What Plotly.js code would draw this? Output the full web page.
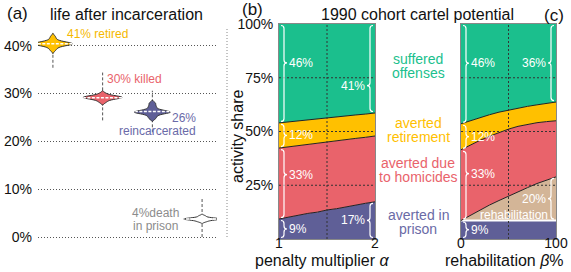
<!DOCTYPE html>
<html><head><meta charset="utf-8">
<script src="https://cdn.plot.ly/plotly-3.0.1.min.js"></script>
<style>html,body{margin:0;padding:0;background:#fff}#chart{width:571px;height:272px}</style>
</head><body><div id="chart"></div>
<script>
// ---------- Panel (a): life after incarceration ----------
const outcomeNames = ['retired', 'killed', 'reincarcerated', 'death in prison'];
const outcomeLabels = [['41% retired'], ['30% killed'], ['26%', 'reincarcerated'], ['4%death', 'in prison']];
const retiredSamples = [39.1, 39.6, 39.95, 40.2, 40.3, 40.35, 40.4, 40.4, 40.45, 40.5, 40.55, 40.65, 40.9, 41.3, 41.9];
const killedSamples = [28.2, 28.6, 28.9, 29.05, 29.15, 29.2, 29.2, 29.25, 29.3, 29.4, 29.6, 30.0];
const reincSamples = [24.8, 25.3, 25.7, 25.95, 26.05, 26.1, 26.15, 26.2, 26.3, 26.5, 26.9, 27.4, 28.0];
const deathSamples = [3.2, 3.45, 3.62, 3.7, 3.75, 3.78, 3.82, 3.9, 4.05, 4.4];
const rangeLow = [35.4, 24.4, 21.9, 0.0];
const rangeHigh = [42.7, 34.4, 30.6, 8.3];
const pctTicks = [0, 10, 20, 30, 40];

// ---------- Panel (b): penalty multiplier ----------
const alpha = [1.0, 1.1, 1.2, 1.3, 1.4, 1.5, 1.6, 1.7, 1.8, 1.9, 2.0];
const bPrison = [9.3, 10.2, 10.9, 11.9, 12.5, 13.5, 14.1, 15.0, 15.7, 16.6, 17.3];
const bHomicide = [33.0, 32.7, 32.5, 32.1, 32.0, 31.6, 31.6, 31.2, 31.1, 30.7, 30.6];
const bRetire = [11.7, 11.6, 11.5, 11.4, 11.3, 11.2, 11.1, 11.0, 10.9, 10.8, 10.7];
const bOffenses = [46.0, 45.5, 45.1, 44.6, 44.2, 43.7, 43.2, 42.8, 42.3, 41.9, 41.4];

// ---------- Panel (c): rehabilitation ----------
const beta = [0, 10, 20, 30, 40, 50, 60, 70, 80, 90, 100];
const cPrison = [8.6, 8.6, 8.6, 8.6, 8.6, 8.6, 8.6, 8.6, 8.6, 8.6, 8.6];
const cRehab = [0, 2.5, 4.9, 7.2, 9.3, 11.4, 13.4, 15.3, 17.2, 18.9, 20.3];
const cHomicide = [32.9, 32.7, 32.4, 32.0, 31.7, 31.1, 30.4, 29.5, 28.3, 27.1, 26.1];
const cRetire = [12.1, 11.3, 10.6, 10.0, 9.4, 8.9, 8.5, 8.3, 8.3, 8.5, 8.7];
const cOffenses = [46.4, 44.9, 43.5, 42.2, 41.0, 40.0, 39.1, 38.3, 37.6, 36.9, 36.3];

const shareTicks = [25, 50, 75, 100];
const alphaTicks = [1, 2];
const betaTicks = [0, 100];
const categoryNames = [['suffered', 'offenses'], ['averted', 'retirement'], ['averted due', 'to homicides'], ['averted in', 'prison']];

// ---------- styles ----------
const C = {green: '#1BBF8D', gold: '#FFC000', red: '#E9636B', purple: '#5F5F97', tan: '#D3B597'};
const FONT = 'Liberation Sans, Arial, Helvetica, sans-serif';
const W = 571, H = 272;
const fx = p => p / W, fy = p => 1 - p / H;

const traces = [];
const shapes = [];
const ann = [];

// ---- panel (a): range lines below the violins ----
rangeLow.forEach((lo, i) => shapes.push({type: 'line', xref: 'x', yref: 'y', x0: i + 1, x1: i + 1, y0: lo, y1: rangeHigh[i],
  line: {color: '#555', width: 1, dash: '3px,2px'}, layer: 'below'}));

const vSamples = [retiredSamples, killedSamples, reincSamples, deathSamples];
const vFill = [C.gold, C.red, C.purple, '#ffffff'];
const vWidth = [0.78, 0.78, 0.72, 0.74];
const vBw = [0.35, 0.3, 0.3, 0.18];
vSamples.forEach((s, i) => {
  traces.push({type: 'violin', name: outcomeNames[i], x0: i + 1, y: s, xaxis: 'x', yaxis: 'y',
    width: vWidth[i], bandwidth: vBw[i], fillcolor: vFill[i], opacity: 1,
    line: {color: '#333', width: 1}, meanline: {visible: true, color: '#fff', width: 1.5},
    points: false, box: {visible: false}, hoverinfo: 'skip'});
});

// ---- stacked areas ----
function stack(xs, layers, colors, lineColors, xa, ya, grp) {
  layers.forEach((v, i) => {
    traces.push({type: 'scatter', mode: 'lines', x: xs, y: v, xaxis: xa, yaxis: ya, stackgroup: grp,
      fillcolor: colors[i], line: {color: lineColors[i], width: lineColors[i] === 'none' ? 0 : (lineColors[i] === '#fff' ? 2 : 1)},
      hoverinfo: 'skip'});
  });
}
stack(alpha, [bPrison, bHomicide, bRetire, bOffenses], [C.purple, C.red, C.gold, C.green],
  ['#222', '#222', '#222', 'none'], 'x2', 'y2', 'b');
stack(beta, [cPrison, cRehab, cHomicide, cRetire, cOffenses], [C.purple, C.tan, C.red, C.gold, C.green],
  ['#fff', '#222', '#222', '#222', 'none'], 'x3', 'y3', 'c');

// ---- grid lines drawn above the fills ----
function grid(xref, yref, xr, xmid) {
  shareTicks.filter(t => t < 100).forEach(t => shapes.push({type: 'line', xref, yref, x0: xr[0], x1: xr[1], y0: t, y1: t,
    line: {color: '#333', width: 1, dash: '2px,2px'}, layer: 'above'}));
  shapes.push({type: 'line', xref, yref, x0: xmid, x1: xmid, y0: 0, y1: 100,
    line: {color: '#333', width: 1, dash: '2px,2px'}, layer: 'above'});
}
grid('x2', 'y2', [alpha[0], alpha[alpha.length - 1]], (alpha[0] + alpha[alpha.length - 1]) / 2);
grid('x3', 'y3', [beta[0], beta[beta.length - 1]], (beta[0] + beta[beta.length - 1]) / 2);

// separator between (a) and (b)
shapes.push({type: 'line', xref: 'paper', yref: 'paper', x0: fx(227), x1: fx(227), y0: fy(237), y1: fy(29),
  line: {color: '#888', width: 1, dash: '1px,2px'}});

// ---- braces ----
function cum(layers) {
  const out = []; let acc = layers[0].map(() => 0);
  layers.forEach(a => { const lo = acc.slice(); acc = acc.map((v, i) => v + a[i]); out.push({lo, hi: acc.slice()}); });
  return out;
}
const PB = {xref: 'x2', yref: 'y2', kx: 96, ky: 2.15, xmin: 1, xmax: 2};
const PC = {xref: 'x3', yref: 'y3', kx: 0.95, ky: 2.15, xmin: 0, xmax: 100};
function brace(P, side, y0, y1, label, tip) {
  const dir = side === 'left' ? 1 : -1;
  const x0 = (side === 'left' ? P.xmin : P.xmax) + dir * 2 / P.kx;
  const w = dir * 6 / P.kx, xm = x0 + w / 2, xt = x0 + w;
  const ins = 1.5 / P.ky, a = y0 + ins, b = y1 - ins;
  const r = Math.min(3 / P.ky, (b - a) / 4);
  const ym = a + (b - a) * tip;
  const path = `M${x0},${b} Q${xm},${b} ${xm},${b - r} L${xm},${ym + r} Q${xm},${ym} ${xt},${ym} Q${xm},${ym} ${xm},${ym - r} L${xm},${a + r} Q${xm},${a} ${x0},${a}`;
  shapes.push({type: 'path', xref: P.xref, yref: P.yref, path, line: {color: '#fff', width: 1.2}, layer: 'above'});
  if (label) ann.push({xref: P.xref, yref: P.yref, x: xt + dir * 1 / P.kx, y: ym, text: label, showarrow: false,
    xanchor: side === 'left' ? 'left' : 'right', yanchor: 'middle', font: {size: 12, color: '#fff'}, borderpad: 0});
}
const pct = v => Math.round(v) + '%';
const sb = cum([bPrison, bHomicide, bRetire, bOffenses]);
const nb = alpha.length - 1;
const bTipL = [0.5, 0.63, 0.5, 0.61];
sb.forEach((L, k) => brace(PB, 'left', L.lo[0], L.hi[0], pct(L.hi[0] - L.lo[0]), bTipL[k]));
brace(PB, 'right', sb[3].lo[nb], sb[3].hi[nb], pct(sb[3].hi[nb] - sb[3].lo[nb]), 0.3);
brace(PB, 'right', sb[0].lo[nb], sb[0].hi[nb], pct(sb[0].hi[nb] - sb[0].lo[nb]), 0.5);

const sc = cum([cPrison, cRehab, cHomicide, cRetire, cOffenses]);
const nc = beta.length - 1;
brace(PC, 'left', sc[0].lo[0], sc[0].hi[0], pct(sc[0].hi[0] - sc[0].lo[0]), 0.5);
brace(PC, 'left', sc[2].lo[0], sc[2].hi[0], pct(sc[2].hi[0] - sc[2].lo[0]), 0.67);
brace(PC, 'left', sc[3].lo[0], sc[3].hi[0], pct(sc[3].hi[0] - sc[3].lo[0]), 0.5);
brace(PC, 'left', sc[4].lo[0], sc[4].hi[0], pct(sc[4].hi[0] - sc[4].lo[0]), 0.61);
brace(PC, 'right', sc[4].lo[nc], sc[4].hi[nc], pct(sc[4].hi[nc] - sc[4].lo[nc]), 0.5);
brace(PC, 'right', sc[1].lo[nc], sc[1].hi[nc], pct(sc[1].hi[nc] - sc[1].lo[nc]), 0.5);

// ---- text ----
function txt(x, y, text, o) {
  o = o || {};
  ann.push({xref: 'paper', yref: 'paper', x: fx(x), y: fy(y), text, showarrow: false,
    xanchor: o.xanchor || 'center', yanchor: 'middle', textangle: o.angle || 0, borderpad: 0,
    font: {size: o.size || 14, color: o.color || '#111', family: FONT}});
}
function multi(x, y, arr, gap, o) { arr.forEach((t, i) => txt(x, y + i * gap, t, o)); }

txt(17, 13, '(a)', {size: 17});
txt(126, 14, 'life after incarceration', {size: 16});
txt(252, 10, '(b)', {size: 17});
txt(417, 14, '1990 cohort cartel potential', {size: 16});
txt(554, 15, '(c)', {size: 17});
txt(237, 137, 'activity share', {size: 16, angle: -90});
txt(322, 260, 'penalty multiplier <i>α</i>', {size: 16});
txt(504, 260, 'rehabilitation <i>β</i>%', {size: 16});

const labelColors = ['#F5B800', C.red, '#6A6AA8', '#8C8C8C'];
multi(66, 34, outcomeLabels[0], 13, {size: 12, color: labelColors[0], xanchor: 'left'});
multi(106, 79, outcomeLabels[1], 13, {size: 12, color: labelColors[1], xanchor: 'left'});
multi(197, 118, outcomeLabels[2], 13, {size: 12, color: labelColors[2], xanchor: 'right'});
multi(155, 213, outcomeLabels[3], 13, {size: 12, color: labelColors[3]});

const catColors = [C.green, C.gold, C.red, '#6A6AA6'];
const catY = [59, 123, 163, 215];
categoryNames.forEach((c, i) => multi(418, catY[i], c, 14, {size: 14, color: catColors[i]}));

txt(549, 215, 'rehabilitation', {size: 12, color: '#fff', xanchor: 'right'});

const boxAxis = {showgrid: false, zeroline: false, showline: true, mirror: true, linecolor: '#888', linewidth: 1,
  ticks: '', fixedrange: true, tickfont: {size: 14, color: '#111'}};
const withPct = a => a.map(v => v + '%');

const layout = {
  width: W, height: H, margin: {l: 0, r: 0, t: 0, b: 0},
  paper_bgcolor: '#fff', plot_bgcolor: 'rgba(0,0,0,0)', showlegend: false,
  violinmode: 'overlay', violingap: 0, violingroupgap: 0,
  font: {family: FONT, size: 14, color: '#111'},
  xaxis: {domain: [fx(38), fx(217)], range: [0.7, 4.3], visible: false, fixedrange: true},
  yaxis: {domain: [fy(250), fy(25)], range: [-2.72, 44.35], tickmode: 'array', tickvals: pctTicks, ticktext: withPct(pctTicks),
    showgrid: true, griddash: '1px,2px', gridcolor: '#555', gridwidth: 1, zeroline: false, showline: false,
    ticks: '', ticklabelstandoff: 5, tickfont: {size: 14, color: '#111'}, fixedrange: true},
  xaxis2: Object.assign({}, boxAxis, {domain: [fx(279), fx(375)], range: [1, 2], tickmode: 'array', tickvals: alphaTicks,
    ticktext: alphaTicks.map(String), anchor: 'y2', ticklabelstandoff: -9}),
  yaxis2: Object.assign({}, boxAxis, {domain: [fy(239), fy(24)], range: [0, 100], tickmode: 'array', tickvals: shareTicks,
    ticktext: withPct(shareTicks), anchor: 'x2', ticklabelstandoff: 2}),
  xaxis3: Object.assign({}, boxAxis, {domain: [fx(461), fx(556)], range: [0, 100], tickmode: 'array', tickvals: betaTicks,
    ticktext: betaTicks.map(String), anchor: 'y3', ticklabelstandoff: -9}),
  yaxis3: Object.assign({}, boxAxis, {domain: [fy(239), fy(24)], range: [0, 100], showticklabels: false, anchor: 'x3'}),
  shapes, annotations: ann
};
Plotly.newPlot('chart', traces, layout, {displayModeBar: false, staticPlot: true});
</script></body></html>
